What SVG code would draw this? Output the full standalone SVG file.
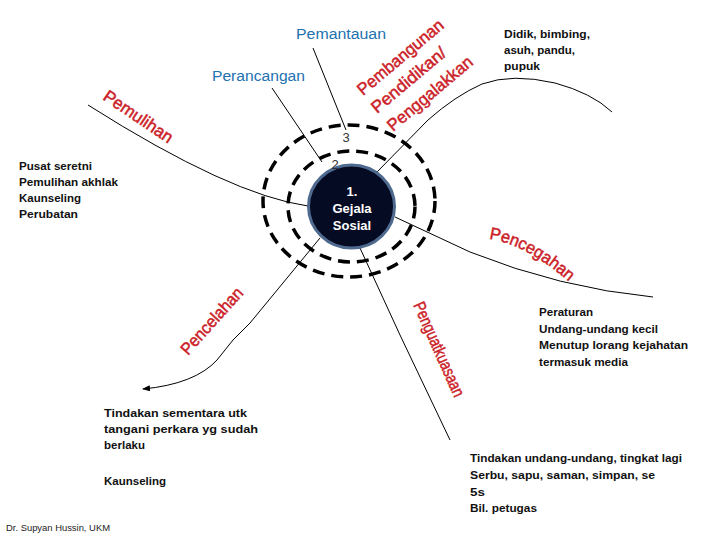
<svg xmlns="http://www.w3.org/2000/svg" width="720" height="540" viewBox="0 0 720 540">
<style>
.blk{font-family:"Liberation Sans",Arial,sans-serif;font-size:11.5px;font-weight:bold;fill:#111}
.blue{font-family:"Liberation Sans",Arial,sans-serif;font-size:14px;fill:#2271b1}
.red{font-family:"Liberation Sans",Arial,sans-serif;font-size:17px;fill:#cc1f2a;stroke:#cc1f2a;stroke-width:0.5}
.num{font-family:"Liberation Sans",Arial,sans-serif;font-size:13px;fill:#333}
.wht{font-family:"Liberation Sans",Arial,sans-serif;font-size:13px;font-weight:bold;fill:#fff}
.ln{fill:none;stroke:#000;stroke-width:1}
.ring{fill:none;stroke:#000;stroke-width:3.5;stroke-dasharray:12 7}
</style>
<defs>
<marker id="ah" markerWidth="8" markerHeight="6" refX="7" refY="3" orient="auto" markerUnits="userSpaceOnUse">
<path d="M0,0 L8,3 L0,6 Z" fill="#000"/>
</marker>
<path id="pcg" d="M489,239 Q527,244 574,286"/>
</defs>
<rect width="720" height="540" fill="#fff"/>
<g id="connectors">
<path class="ln" d="M313,48 L346,130"/>
<path class="ln" d="M272,88 L322,162"/>
<path class="ln" d="M88,105 Q230,195 308,206"/>
<path class="ln" d="M320,238 L250,323 L233,340 L217,360 Q195,384 143,389" marker-end="url(#ah)"/>
<path class="ln" d="M360,248 L400,335 L450,440"/>
<path class="ln" d="M395,217 L470,252 Q560,288 653,297"/>
<path class="ln" d="M377,172 L428,120 Q455,96 482,84 Q512,73 555,83 Q592,93 612,112"/>
</g>
<g id="rings">
<ellipse class="ring" cx="349" cy="201" rx="86" ry="76"/>
<ellipse class="ring" cx="351.5" cy="206.5" rx="63.5" ry="55.5"/>
</g>
<g id="core">
<ellipse cx="351.5" cy="206.5" rx="43" ry="41.5" fill="#060b24" stroke="#4f6a8f" stroke-width="3"/>
<text class="wht" x="352" y="196" text-anchor="middle">1.</text>
<text class="wht" x="352" y="213" text-anchor="middle">Gejala</text>
<text class="wht" x="352" y="230" text-anchor="middle">Sosial</text>
</g>
<g id="numbers">
<text class="num" x="346" y="142" text-anchor="middle">3</text>
<text class="num" x="335" y="169" text-anchor="middle">2</text>
</g>
<g id="pemantauan"><text class="blue" x="296" y="39" textLength="90" lengthAdjust="spacingAndGlyphs">Pemantauan</text></g>
<g id="perancangan"><text class="blue" x="212" y="81" textLength="93" lengthAdjust="spacingAndGlyphs">Perancangan</text></g>
<g id="pembangunan">
<text class="red" transform="translate(363,96) rotate(-40)" textLength="107" lengthAdjust="spacingAndGlyphs">Pembangunan</text>
<text class="red" transform="translate(377,114) rotate(-40)" textLength="92" lengthAdjust="spacingAndGlyphs">Pendidikan/</text>
<text class="red" transform="translate(393,132) rotate(-40)" textLength="106" lengthAdjust="spacingAndGlyphs">Penggalakkan</text>
</g>
<g id="pemulihan"><text class="red" transform="translate(102,99) rotate(34)" textLength="80" lengthAdjust="spacingAndGlyphs">Pemulihan</text></g>
<g id="pencelahan"><text class="red" transform="translate(188,356) rotate(-48)" textLength="84" lengthAdjust="spacingAndGlyphs">Pencelahan</text></g>
<g id="penguatkuasaan"><text class="red" transform="translate(413,305) rotate(66)" textLength="102" lengthAdjust="spacingAndGlyphs">Penguatkuasaan</text></g>
<g id="pencegahan"><text class="red"><textPath href="#pcg" textLength="92" lengthAdjust="spacingAndGlyphs">Pencegahan</textPath></text></g>
<g id="note-pemulihan">
<text class="blk" x="19" y="170" textLength="73" lengthAdjust="spacingAndGlyphs">Pusat seretni</text>
<text class="blk" x="19" y="186" textLength="99" lengthAdjust="spacingAndGlyphs">Pemulihan akhlak</text>
<text class="blk" x="19" y="202" textLength="62" lengthAdjust="spacingAndGlyphs">Kaunseling</text>
<text class="blk" x="19" y="218" textLength="59" lengthAdjust="spacingAndGlyphs">Perubatan</text>
</g>
<g id="note-pembangunan">
<text class="blk" x="504" y="38" textLength="86" lengthAdjust="spacingAndGlyphs">Didik, bimbing,</text>
<text class="blk" x="504" y="54" textLength="71" lengthAdjust="spacingAndGlyphs">asuh, pandu,</text>
<text class="blk" x="504" y="70" textLength="36" lengthAdjust="spacingAndGlyphs">pupuk</text>
</g>
<g id="note-pencegahan">
<text class="blk" x="539" y="316" textLength="54" lengthAdjust="spacingAndGlyphs">Peraturan</text>
<text class="blk" x="539" y="333" textLength="119" lengthAdjust="spacingAndGlyphs">Undang-undang kecil</text>
<text class="blk" x="539" y="349" textLength="149" lengthAdjust="spacingAndGlyphs">Menutup lorang kejahatan</text>
<text class="blk" x="539" y="366" textLength="89" lengthAdjust="spacingAndGlyphs">termasuk media</text>
</g>
<g id="note-pencelahan">
<text class="blk" x="104" y="417" textLength="143" lengthAdjust="spacingAndGlyphs">Tindakan sementara utk</text>
<text class="blk" x="104" y="433" textLength="154" lengthAdjust="spacingAndGlyphs">tangani perkara yg sudah</text>
<text class="blk" x="104" y="449" textLength="41" lengthAdjust="spacingAndGlyphs">berlaku</text>
<text class="blk" x="104" y="485" textLength="62" lengthAdjust="spacingAndGlyphs">Kaunseling</text>
</g>
<g id="note-penguatkuasaan">
<text class="blk" x="470" y="462" textLength="212" lengthAdjust="spacingAndGlyphs">Tindakan undang-undang, tingkat lagi</text>
<text class="blk" x="470" y="479" textLength="185" lengthAdjust="spacingAndGlyphs">Serbu, sapu,  saman, simpan,  se</text>
<text class="blk" x="470" y="496" textLength="15" lengthAdjust="spacingAndGlyphs">5s</text>
<text class="blk" x="470" y="512" textLength="67" lengthAdjust="spacingAndGlyphs">Bil. petugas</text>
</g>
<g id="credit"><text x="6" y="531" font-family="Liberation Sans, Arial, sans-serif" font-size="9" fill="#222" textLength="104" lengthAdjust="spacingAndGlyphs">Dr. Supyan Hussin, UKM</text></g>
</svg>
